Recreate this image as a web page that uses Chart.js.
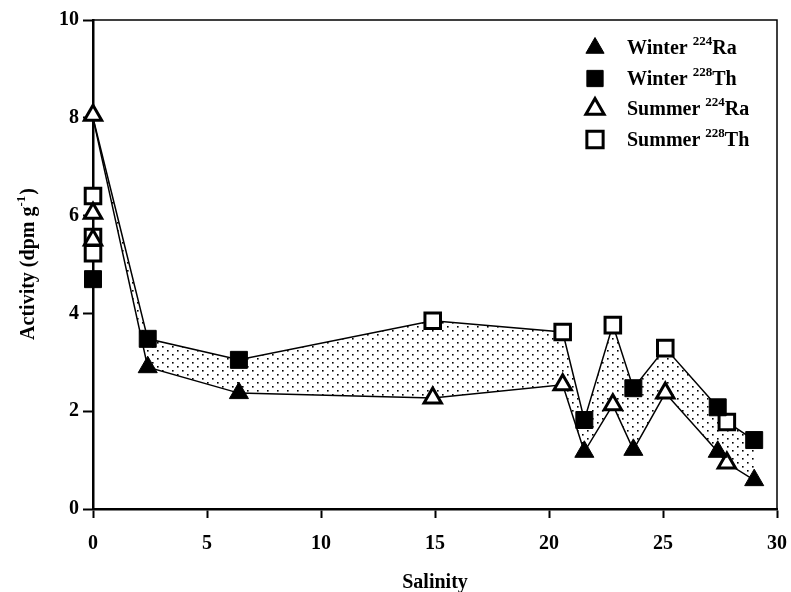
<!DOCTYPE html>
<html>
<head>
<meta charset="utf-8">
<script src="https://cdn.jsdelivr.net/npm/chart.js@4/dist/chart.umd.min.js"></script>
<style>
  html, body { margin: 0; padding: 0; background: #fff; }
  #wrap { width: 791px; height: 592px; }
</style>
</head>
<body>
<div id="wrap"><canvas id="activityChart" width="791" height="592"></canvas></div>
<script>
// Salinity positions of the two envelope lines (both seasons combined)
const envSalinity = [0, 2.4, 6.4, 14.9, 20.6, 21.55, 22.8, 23.7, 25.1, 27.4, 27.8, 29.0];
const envThorium  = [8.0, 3.48, 3.05, 3.85, 3.62, 1.82, 3.76, 2.47, 3.29, 2.08, 1.78, 1.41];
const envRadium   = [8.0, 2.90, 2.37, 2.27, 2.54, 1.17, 2.13, 1.21, 2.37, 1.17, 0.94, 0.59];

// Winter 224Ra
const winterRaSal = [2.4, 6.4, 21.55, 23.7, 27.4, 29.0];
const winterRaAct = [2.90, 2.37, 1.17, 1.21, 1.17, 0.59];
// Winter 228Th
const winterThSal = [0, 2.4, 6.4, 21.55, 23.7, 27.4, 29.0];
const winterThAct = [4.70, 3.48, 3.05, 1.82, 2.47, 2.08, 1.41];
// Summer 224Ra
const summerRaSal = [0, 0, 0, 14.9, 20.6, 22.8, 25.1, 27.8];
const summerRaAct = [8.05, 6.05, 5.50, 2.27, 2.54, 2.13, 2.37, 0.94];
// Summer 228Th
const summerThSal = [0, 0, 0, 14.9, 20.6, 22.8, 25.1, 27.8];
const summerThAct = [6.40, 5.56, 5.23, 3.85, 3.62, 3.76, 3.29, 1.78];

const xTicks = [0, 5, 10, 15, 20, 25, 30];
const yTicks = [0, 2, 4, 6, 8, 10];

const legendItems = [
    { season: 'Winter', mass: '224', elem: 'Ra' },
    { season: 'Winter', mass: '228', elem: 'Th' },
    { season: 'Summer', mass: '224', elem: 'Ra' },
    { season: 'Summer', mass: '228', elem: 'Th' }
];

const FONT = '"Liberation Serif", "Times New Roman", serif';

function toPoints(xs, ys) {
    return xs.map((x, i) => ({ x: x, y: ys[i] }));
}

// dotted fill between the two lines
function makeDots() {
    const c = document.createElement('canvas');
    c.width = 10; c.height = 8;
    const g = c.getContext('2d');
    g.fillStyle = '#000';
    g.fillRect(2, 2, 1.6, 1.6);
    g.fillRect(7, 6, 1.6, 1.6);
    return g.createPattern(c, 'repeat');
}

const markerStyles = [
    { pointStyle: 'triangle', radius: 11, fill: '#000', lw: 1 },
    { pointStyle: 'rect', radius: 12, fill: '#000', lw: 1 },
    { pointStyle: 'triangle', radius: 10, fill: '#fff', lw: 3 },
    { pointStyle: 'rect', radius: 11, fill: '#fff', lw: 3 }
];

function scatterSet(label, xs, ys, st) {
    return {
        label: label,
        type: 'scatter',
        data: toPoints(xs, ys),
        showLine: false,
        clip: false,
        pointStyle: st.pointStyle,
        pointRadius: st.radius,
        pointBackgroundColor: st.fill,
        pointBorderColor: '#000',
        pointBorderWidth: st.lw,
        order: 0
    };
}

const extras = {
    id: 'extras',
    afterDraw(chart) {
        const ctx = chart.ctx;
        const a = chart.chartArea;
        ctx.save();
        // top and right frame
        ctx.strokeStyle = '#000';
        ctx.lineWidth = 1.5;
        ctx.beginPath();
        ctx.moveTo(a.left, a.top);
        ctx.lineTo(a.right, a.top);
        ctx.lineTo(a.right, a.bottom);
        ctx.stroke();

        // x title
        ctx.fillStyle = '#000';
        ctx.font = 'bold 20px ' + FONT;
        ctx.textAlign = 'center';
        ctx.textBaseline = 'alphabetic';
        ctx.fillText('Salinity', (a.left + a.right) / 2, 588);

        // y title with superscript
        ctx.save();
        ctx.translate(34, (a.top + a.bottom) / 2);
        ctx.rotate(-Math.PI / 2);
        const main = 'Activity (dpm g';
        const sup = '-1';
        const tail = ')';
        ctx.font = 'bold 20px ' + FONT;
        const w1 = ctx.measureText(main).width;
        const w3 = ctx.measureText(tail).width;
        ctx.font = 'bold 13px ' + FONT;
        const w2 = ctx.measureText(sup).width;
        let x0 = -(w1 + w2 + w3) / 2;
        ctx.textAlign = 'left';
        ctx.font = 'bold 20px ' + FONT;
        ctx.fillText(main, x0, 0);
        ctx.font = 'bold 13px ' + FONT;
        ctx.fillText(sup, x0 + w1, -9);
        ctx.font = 'bold 20px ' + FONT;
        ctx.fillText(tail, x0 + w1 + w2 + 1, 0);
        ctx.restore();

        // legend
        const mx = 595, tx = 627;
        legendItems.forEach((it, i) => {
            const y = 48 + i * 30.5;
            const st = markerStyles[i];
            ctx.fillStyle = st.fill;
            ctx.strokeStyle = '#000';
            ctx.lineWidth = st.lw;
            Chart.helpers.drawPoint(ctx, {
                pointStyle: st.pointStyle,
                radius: st.pointStyle === 'rect' ? 11.5 : 10.5,
                borderWidth: st.lw,
                rotation: 0
            }, mx, y);
            ctx.fillStyle = '#000';
            ctx.textAlign = 'left';
            ctx.textBaseline = 'middle';
            ctx.font = 'bold 20px ' + FONT;
            const s1 = it.season + ' ';
            ctx.fillText(s1, tx, y + 1);
            let xx = tx + ctx.measureText(s1).width;
            ctx.font = 'bold 13px ' + FONT;
            ctx.fillText(it.mass, xx, y - 6);
            xx += ctx.measureText(it.mass).width;
            ctx.font = 'bold 20px ' + FONT;
            ctx.fillText(it.elem, xx, y + 1);
        });
        ctx.restore();
    }
};

const ctx = document.getElementById('activityChart').getContext('2d');
const chart = new Chart(ctx, {
    type: 'line',
    data: {
        datasets: [
            scatterSet('Winter 224Ra', winterRaSal, winterRaAct, markerStyles[0]),
            scatterSet('Winter 228Th', winterThSal, winterThAct, markerStyles[1]),
            scatterSet('Summer 224Ra', summerRaSal, summerRaAct, markerStyles[2]),
            scatterSet('Summer 228Th', summerThSal, summerThAct, markerStyles[3]),
            {
                label: 'upper',
                data: toPoints(envSalinity, envThorium),
                borderColor: '#000',
                borderWidth: 1.5,
                pointRadius: 0,
                tension: 0,
                fill: '+1',
                backgroundColor: makeDots(),
                order: 1
            },
            {
                label: 'lower',
                data: toPoints(envSalinity, envRadium),
                borderColor: '#000',
                borderWidth: 1.5,
                pointRadius: 0,
                tension: 0,
                fill: false,
                order: 1
            }
        ]
    },
    options: {
        responsive: false,
        animation: false,
        devicePixelRatio: 1,
        layout: { padding: { top: 20, right: 3, left: 0, bottom: 0 } },
        plugins: {
            legend: { display: false },
            tooltip: { enabled: false }
        },
        scales: {
            x: {
                type: 'linear',
                min: 0,
                max: 30,
                afterFit: s => { s.height = 83; s.paddingRight = 10; },
                afterBuildTicks: s => { s.ticks = xTicks.map(v => ({ value: v })); },
                border: { display: true, color: '#000', width: 2.5 },
                grid: { drawOnChartArea: false, drawTicks: true, tickLength: 9, tickWidth: 2, tickColor: '#000' },
                ticks: { color: '#000', padding: 14, font: { family: FONT, size: 20, weight: 'bold' } }
            },
            y: {
                type: 'linear',
                min: 0,
                max: 10,
                afterFit: s => { s.width = 93; },
                afterBuildTicks: s => { s.ticks = yTicks.map(v => ({ value: v })); },
                border: { display: true, color: '#000', width: 2.5 },
                grid: { drawOnChartArea: false, drawTicks: true, tickLength: 10, tickWidth: 2, tickColor: '#000' },
                ticks: { color: '#000', padding: 4, font: { family: FONT, size: 20, weight: 'bold' } }
            }
        }
    },
    plugins: [extras]
});
</script>
</body>
</html>
